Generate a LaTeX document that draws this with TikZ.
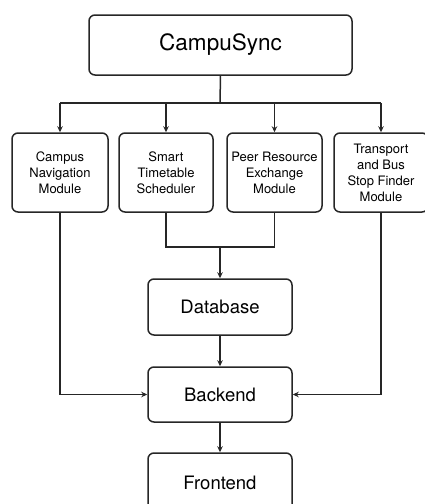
\documentclass[tikz,border=0pt]{standalone}
\usepackage{fontspec}
\setmainfont{TeX Gyre Heros}
\usetikzlibrary{arrows.meta}
\begin{document}
\begin{tikzpicture}[x=1pt,y=-1pt,
  box/.style={draw=black!85,line width=1.5pt,rounded corners=6pt,inner sep=0pt,align=center},
  mod/.style={box,font=\fontsize{13}{16}\selectfont},
  big/.style={box,font=\fontsize{18.5}{20}\selectfont},
  conn/.style={draw=black!85,line width=1.5pt},
  arr/.style={conn,-{Stealth[length=6pt,width=5.5pt]}}]
\useasboundingbox (0,0) rectangle (425,504);
\clip (0,0) rectangle (425,504);
\node[box,font=\fontsize{22.5}{24}\selectfont,minimum width=263pt,minimum height=60pt] (top) at (220.5,45) {CampuSync};
\node[mod,minimum width=96pt,minimum height=79pt] (m1) at (60,172.5) {Campus\\Navigation\\Module};
\node[mod,minimum width=94pt,minimum height=79pt] (m2) at (166,172.5) {Smart\\Timetable\\Scheduler};
\node[mod,minimum width=95pt,minimum height=79pt] (m3) at (274.5,172.5) {Peer Resource\\Exchange\\Module};
\node[mod,minimum width=94pt,minimum height=79pt] (m4) at (381,172.5) {Transport\\and Bus\\Stop Finder\\Module};
\node[big,minimum width=144pt,minimum height=56pt] (db) at (220,307) {Database};
\node[big,minimum width=144pt,minimum height=55pt] (be) at (220,394.5) {Backend};
\node[big,minimum width=144pt,minimum height=60pt] (fe) at (220,483) {Frontend};
\coordinate (j1) at (220,103);
\coordinate (j2) at (220,247);
\draw[conn] (top.south) -- (j1);
\draw[conn] (m1.north |- j1) -- (m4.north |- j1);
\draw[arr] (m1.north |- j1) -- (m1.north);
\draw[arr] (m2.north |- j1) -- (m2.north);
\draw[arr] (m3.north |- j1) -- (m3.north);
\draw[arr] (m4.north |- j1) -- (m4.north);
\draw[conn] (m2.south) |- (j2) -| (m3.south);
\draw[arr] (j2) -- (db.north);
\draw[arr] (db.south) -- (be.north);
\draw[arr] (be.south) -- (fe.north);
\draw[arr] (m1.south) |- (be.west);
\draw[arr] (m4.south) |- (be.east);
\end{tikzpicture}
\end{document}
